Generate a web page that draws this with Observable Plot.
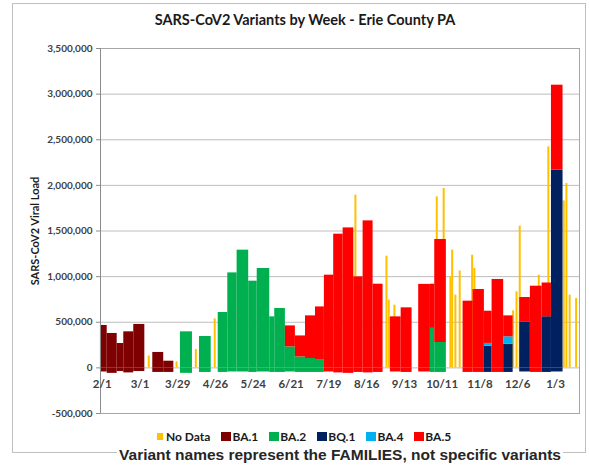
<!DOCTYPE html>
<html><head><meta charset="utf-8">
<script src="https://cdn.jsdelivr.net/npm/d3@7"></script>
<script src="https://cdn.jsdelivr.net/npm/@observablehq/plot@0.6"></script>
<style>
body{margin:0;background:#fff;width:589px;height:466px;overflow:hidden;position:relative;font-family:Lato,"Open Sans",sans-serif}
#frame{position:absolute;left:12px;top:3px;width:574px;height:450px;border:1px solid #bfbfbf;box-sizing:border-box}
#title{position:absolute;left:0;width:610px;top:11px;text-align:center;font-weight:bold;font-size:14.5px;font-family:Lato,sans-serif;color:#1a1a1a}
#chart{position:absolute;left:0;top:40px}
#legend{position:absolute;left:157px;top:429px;display:flex;align-items:center;font-weight:bold;font-size:12px;font-family:Lato,sans-serif;color:#1a1a1a}
#legend .item{display:flex;align-items:center;margin-right:11px}
#legend .sw{display:inline-block;width:10px;height:9px;margin-right:1px}
#note{position:absolute;left:0;width:680px;top:446px;text-align:center;font-family:"Liberation Sans",Arial,sans-serif;font-weight:bold;font-size:15.5px;color:#262626}
#note span{background:#fff;padding:0 2px}
</style></head>
<body>
<div id="frame"></div>
<div id="title">SARS-CoV2 Variants by Week - Erie County PA</div>
<div id="chart"></div>
<div id="legend"></div>
<div id="note"><span>Variant names represent the FAMILIES, not specific variants</span></div>
<script>
// ---- data (days counted from 2/1) ----
const tickDays = [0, 28, 56, 84, 112, 140, 168, 196, 224, 252, 280, 308, 336];
const tickLabels = ["2/1","3/1","3/29","4/26","5/24","6/21","7/19","8/16","9/13","10/11","11/8","12/6","1/3"];
const yTicks = [-500000, 0, 500000, 1000000, 1500000, 2000000, 2500000, 3000000, 3500000];

const seriesNames = ["BA.1", "BA.2", "BQ.1", "BA.4", "BA.5"];
const seriesColors = ["#7f0000", "#00b050", "#002060", "#00b0f0", "#ff0000"];
const noDataName = "No Data";
const noDataColor = "#ffc000";

const barStart = [-1.3, 3.7, 11.1, 16.0, 23.4, 37.5, 45.6, 58.0, 72.1, 86.0, 93.1, 100.0, 108.6, 114.9, 124.2, 127.9, 135.8, 143.2, 150.7, 158.1, 164.7, 171.6, 178.6, 186.5, 193.4, 200.8, 213.6, 221.6, 234.6, 243.3, 246.5, 267.5, 274.9, 283.3, 289.0, 297.6, 309.5, 317.4, 326.1, 333.0];
const barEnd   = [3.7, 11.1, 16.0, 23.4, 31.6, 45.6, 53.1, 66.9, 80.8, 93.1, 100.0, 108.6, 114.9, 124.2, 127.9, 135.8, 143.2, 150.7, 158.1, 164.7, 171.6, 178.6, 186.5, 193.4, 200.8, 208.2, 221.6, 229.7, 243.3, 246.5, 255.1, 274.9, 283.3, 289.0, 297.6, 304.6, 317.4, 326.1, 333.0, 341.6];

const ba1 = [465000, 377000, 267000, 395000, 476000, 169000, 73000, 0, 0, 0, 0, 0, 0, 0, 0, 0, 0, 0, 0, 0, 0, 0, 0, 0, 0, 0, 0, 0, 0, 0, 0, 0, 0, 0, 0, 0, 0, 0, 0, 0];
const ba2 = [0, 0, 0, 0, 0, 0, 0, 395000, 344000, 607000, 1041000, 1290000, 950000, 1089000, 559000, 651000, 230000, 120000, 103000, 84000, 0, 0, 0, 0, 0, 0, 0, 0, 0, 433000, 278000, 0, 0, 0, 0, 0, 0, 0, 0, 0];
const bq1 = [0, 0, 0, 0, 0, 0, 0, 0, 0, 0, 0, 0, 0, 0, 0, 0, 0, 0, 0, 0, 0, 0, 0, 0, 0, 0, 0, 0, 0, 0, 0, 0, 0, 238000, 0, 260000, 504000, 0, 560000, 2167000];
const ba4 = [0, 0, 0, 0, 0, 0, 0, 0, 0, 0, 0, 0, 0, 0, 0, 0, 0, 0, 0, 0, 0, 0, 0, 0, 0, 0, 0, 0, 0, 0, 0, 0, 0, 30000, 0, 80000, 0, 0, 0, 0];
const ba5 = [0, 0, 0, 0, 0, 0, 0, 0, 0, 0, 0, 0, 0, 0, 0, 0, 230000, 230000, 467000, 584000, 1016000, 1465000, 1534000, 997000, 1611000, 917000, 559000, 658000, 915000, 484000, 1129000, 731000, 859000, 353000, 969000, 230000, 267000, 895000, 370000, 931000];
const belowZero = [-45000, -60000, -40000, -55000, -40000, -50000, -50000, -60000, -50000, -50000, -45000, -45000, -50000, -45000, -50000, -50000, -45000, -50000, -50000, -50000, -45000, -55000, -60000, -50000, -55000, -50000, -45000, -50000, -45000, -50000, -50000, -50000, -50000, -50000, -50000, -50000, -45000, -50000, -50000, -45000];

const noDataDay   = [34.5, 55.1, 69.4, 83.4, 187.7, 210.7, 212.4, 216.6, 248.0, 253.1, 258.1, 259.4, 261.8, 265.0, 274.2, 275.9, 304.6, 307.1, 309.5, 323.6, 330.7, 342.1, 344.1, 346.5, 351.3];
const noDataValue = [130000, 66000, 202000, 537000, 1893000, 1224000, 742000, 687000, 1874000, 1966000, 1000000, 1290000, 797000, 1063000, 1235000, 1090000, 625000, 833000, 1553000, 1016000, 2422000, 1830000, 2020000, 797000, 760000];

// ---- table for the library ----
const seriesValues = [ba1, ba2, bq1, ba4, ba5];
const rows = [];
barStart.forEach((s, i) => {
  const e = barEnd[i];
  const bottom = seriesNames.find((n, k) => seriesValues[k][i] > 0);
  rows.push({x1: s, x2: e, y1: belowZero[i], y2: 0, series: bottom});
  let base = 0;
  seriesNames.forEach((n, k) => {
    const v = seriesValues[k][i];
    if (v > 0) { rows.push({x1: s, x2: e, y1: base, y2: base + v, series: n}); base += v; }
  });
});
const noData = noDataDay.map((d, i) => ({day: d, value: noDataValue[i]}));

const xDomain = [-1.26, 353.8];
const chart = Plot.plot({
  width: 589, height: 380,
  marginLeft: 100, marginRight: 10, marginTop: 8, marginBottom: 7,
  style: {fontFamily: "Lato, 'Open Sans', sans-serif", fontWeight: "bold", background: "transparent"},
  x: {domain: xDomain, axis: null},
  y: {domain: [-500000, 3500000], axis: null},
  color: {domain: seriesNames, range: seriesColors},
  marks: [
    Plot.gridY(yTicks, {stroke: "#bdbdbd", strokeOpacity: 1}),
    Plot.ruleX(noData, {x: "day", y1: 0, y2: "value", stroke: noDataColor, strokeWidth: 2}),
    Plot.rect(rows, {x1: "x1", x2: "x2", y1: "y1", y2: "y2", fill: "series"}),
    Plot.frame({stroke: "#a6a6a6"}),
    Plot.ruleX([xDomain[0]], {stroke: "#8c8c8c"}),
    Plot.axisY({ticks: yTicks, tickSize: 4, tickPadding: 4, stroke: "#8c8c8c", fill: "#404040", fontSize: 10, tickFormat: d => d.toLocaleString("en-US"), label: null}),
    Plot.text(tickDays, {x: d => d, y: 0, dy: 16, text: (d, i) => tickLabels[i], fontSize: 11.5, fill: "#404040"}),
    Plot.text(["SARS-CoV2 Viral Load"], {frameAnchor: "left", textAnchor: "middle", rotate: -90, dx: -65, fontSize: 11, fill: "#1a1a1a"})
  ]
});
document.getElementById("chart").appendChild(chart);

// ---- legend ----
const legend = document.getElementById("legend");
[[noDataName, noDataColor]].concat(seriesNames.map((n, i) => [n, seriesColors[i]])).forEach(([n, c], i) => {
  const item = document.createElement("div"); item.className = "item";
  const sw = document.createElement("span"); sw.className = "sw"; sw.style.background = c;
  if (i === 0) { sw.style.width = "6px"; sw.style.height = "7px"; sw.style.marginRight = "3px"; }
  const t = document.createElement("span"); t.textContent = n;
  item.appendChild(sw); item.appendChild(t); legend.appendChild(item);
});
</script>
</body></html>
